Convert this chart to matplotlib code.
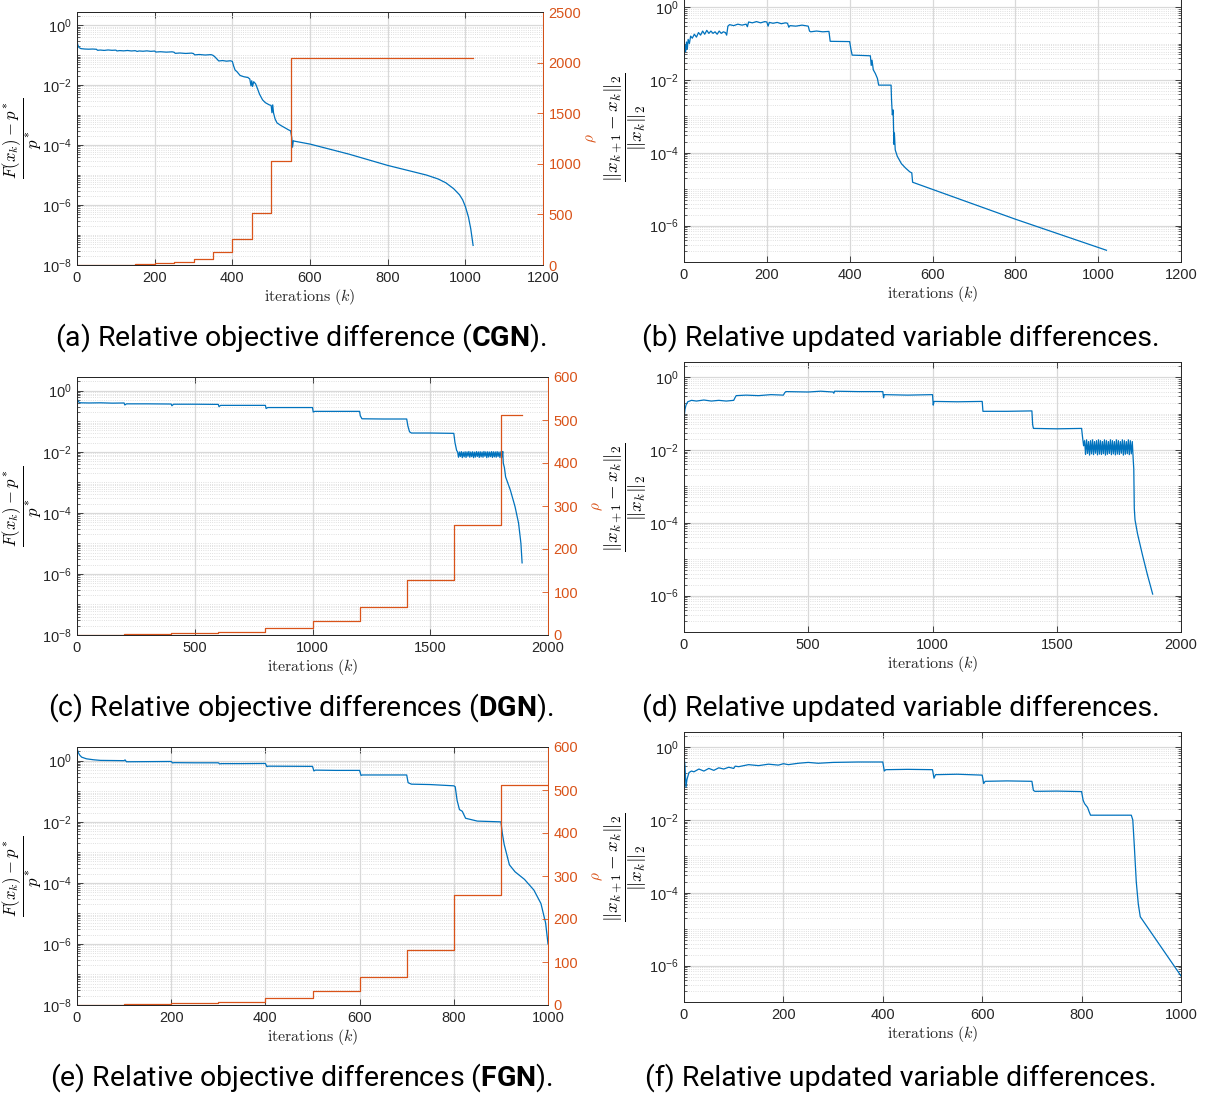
import matplotlib
matplotlib.use('Agg')
import matplotlib.pyplot as plt
from matplotlib import font_manager
from matplotlib.ticker import FixedLocator, LogFormatterMathtext, MultipleLocator, NullFormatter

# ---------------- data ----------------
# (a) CGN relative objective difference
cgn_obj_k = [0, 2, 5, 10, 20, 30, 40, 50, 53, 60, 70, 80, 90, 100, 103, 110, 120, 130, 140, 150,
             155, 160, 170, 180, 190, 200, 203, 215, 230, 245, 250, 253, 265, 280, 295, 300, 303,
             315, 330, 345, 350, 355, 360, 365, 375, 385, 395, 400, 403, 407, 412, 420, 430, 440,
             445, 448, 450, 452, 455, 460, 465, 470, 478, 485, 495, 500, 502, 504, 506, 510, 515,
             525, 535, 545, 550, 553, 555, 557, 560, 600, 700, 800, 850, 900, 930, 950, 970, 985,
             993, 1000, 1008, 1014, 1020]
cgn_obj_v = [0.30, 0.22, 0.18, 0.165, 0.16, 0.158, 0.16, 0.157, 0.145, 0.148, 0.144, 0.149, 0.145,
             0.147, 0.138, 0.142, 0.139, 0.143, 0.138, 0.141, 0.133, 0.138, 0.135, 0.139, 0.134,
             0.137, 0.127, 0.13, 0.126, 0.129, 0.125, 0.115, 0.118, 0.114, 0.117, 0.113, 0.102,
             0.105, 0.101, 0.104, 0.099, 0.088, 0.075, 0.064, 0.066, 0.063, 0.065, 0.062, 0.045,
             0.032, 0.028, 0.021, 0.019, 0.018, 0.016, 0.0095, 0.014, 0.009, 0.013, 0.011, 0.0075,
             0.005, 0.0032, 0.0026, 0.0022, 0.0021, 0.0012, 0.0022, 0.0012, 0.00075, 0.00055,
             0.00045, 0.00038, 0.00032, 0.00030, 0.00018, 0.000085, 0.00014, 0.000135, 0.000108,
             0.00005, 0.000021, 0.0000145, 0.0000100, 0.0000074, 0.0000055, 0.0000035, 0.0000022,
             0.0000015, 0.0000009, 0.0000004, 0.00000016, 0.000000045]
cgn_rho_k = [0, 50, 100, 150, 200, 250, 300, 350, 400, 450, 500, 550, 1020]
cgn_rho_v = [1, 2, 4, 8, 16, 32, 64, 128, 256, 512, 1024, 2048, 2048]

# (b) CGN relative updated variable differences
cgn_var_k = [0, 2, 4, 6, 8, 10, 13, 16, 20, 25, 30, 35, 40, 45, 50, 55, 60, 65, 70, 75, 80, 85, 90,
             95, 100, 103, 106, 110, 120, 130, 140, 150, 153, 156, 165, 175, 185, 195, 200, 203,
             206, 215, 225, 235, 245, 250, 253, 256, 270, 285, 300, 303, 306, 320, 335, 350, 353,
             375, 400, 403, 406, 430, 450, 452, 454, 457, 462, 467, 470, 500, 501, 503, 505, 506,
             507, 508, 510, 515, 525, 535, 545, 550, 552, 800, 1020]
cgn_var_v = [0.032, 0.09, 0.06, 0.11, 0.07, 0.13, 0.10, 0.16, 0.14, 0.18, 0.15, 0.20, 0.17, 0.22,
             0.18, 0.23, 0.19, 0.22, 0.19, 0.21, 0.18, 0.22, 0.19, 0.21, 0.20, 0.17, 0.30, 0.33,
             0.31, 0.34, 0.32, 0.34, 0.29, 0.39, 0.37, 0.40, 0.37, 0.40, 0.39, 0.30, 0.38, 0.36,
             0.38, 0.35, 0.37, 0.36, 0.28, 0.31, 0.30, 0.32, 0.30, 0.22, 0.21, 0.22, 0.21, 0.215,
             0.115, 0.114, 0.113, 0.07, 0.048, 0.047, 0.046, 0.025, 0.035, 0.019, 0.015, 0.011,
             0.0072, 0.0072, 0.003, 0.0011, 0.0015, 0.00045, 0.00017, 0.00035, 0.00012, 0.00008,
             0.00005, 0.000038, 0.00003, 0.000028, 0.0000155, 0.0000015, 0.00000021]

# (c) DGN relative objective differences
dgn_obj_k = [0, 3, 8, 15, 50, 100, 150, 200, 203, 210, 300, 400, 403, 410, 500, 600, 603, 610, 700,
             800, 803, 810, 900, 1000, 1003, 1010, 1100, 1200, 1203, 1210, 1300, 1400, 1405, 1412,
             1420, 1500, 1600, 1605, 1612,
             1616, 1620, 1624, 1628, 1632, 1636, 1640, 1644, 1648, 1652, 1656, 1660, 1664, 1668,
             1672, 1676, 1680, 1684, 1688, 1692, 1696, 1700, 1704, 1708, 1712, 1716, 1720, 1724,
             1728, 1732, 1736, 1740, 1744, 1748, 1752, 1756, 1760, 1764, 1768, 1772, 1776, 1780,
             1784, 1788, 1792, 1796, 1800, 1804, 1808,
             1810, 1815, 1820, 1840, 1860, 1875, 1885, 1890]
dgn_obj_v = [0.6, 0.48, 0.42, 0.40, 0.395, 0.40, 0.39, 0.395, 0.34, 0.37, 0.37, 0.365, 0.32, 0.36,
             0.36, 0.355, 0.30, 0.33, 0.33, 0.33, 0.26, 0.28, 0.28, 0.28, 0.20, 0.21, 0.21, 0.21,
             0.15, 0.12, 0.118, 0.118, 0.07, 0.045, 0.041, 0.041, 0.040, 0.02, 0.011,
             0.0100, 0.0066, 0.0098, 0.0070, 0.0101, 0.0064, 0.0097, 0.0068, 0.0100, 0.0065,
             0.0099, 0.0071, 0.0102, 0.0066, 0.0098, 0.0069, 0.0100, 0.0064, 0.0097, 0.0067,
             0.0101, 0.0070, 0.0099, 0.0065, 0.0100, 0.0068, 0.0098, 0.0066, 0.0102, 0.0071,
             0.0099, 0.0064, 0.0100, 0.0067, 0.0098, 0.0069, 0.0101, 0.0065, 0.0100, 0.0068,
             0.0099, 0.0066, 0.0101, 0.0070, 0.0098, 0.0064, 0.0100, 0.0067, 0.0102,
             0.0043, 0.003, 0.0015, 0.00056, 0.00016, 0.000046, 0.00001, 0.0000023]
dgn_rho_k = [0, 200, 400, 600, 800, 1000, 1200, 1400, 1600, 1800, 1890]
dgn_rho_v = [1, 2, 4, 8, 16, 32, 64, 128, 256, 512, 512]

# (d) DGN relative updated variable differences
dgn_var_k = [0, 2, 4, 8, 15, 30, 50, 80, 110, 140, 170, 200, 205, 210, 250, 300, 350, 400, 405,
             410, 500, 550, 600, 603, 606, 700, 800, 803, 806, 900, 1000, 1003, 1006, 1100, 1200,
             1203, 1300, 1400, 1403, 1406, 1500, 1600, 1603, 1608,
             1612, 1616, 1620, 1624, 1628, 1632, 1636, 1640, 1644, 1648, 1652, 1656, 1660, 1664,
             1668, 1672, 1676, 1680, 1684, 1688, 1692, 1696, 1700, 1704, 1708, 1712, 1716, 1720,
             1724, 1728, 1732, 1736, 1740, 1744, 1748, 1752, 1756, 1760, 1764, 1768, 1772, 1776,
             1780, 1784, 1788, 1792, 1796, 1800, 1804, 1808,
             1810, 1812, 1815, 1825, 1845, 1865, 1886]
dgn_var_v = [0.055, 0.10, 0.13, 0.17, 0.21, 0.23, 0.22, 0.235, 0.22, 0.23, 0.22, 0.23, 0.27, 0.31,
             0.32, 0.31, 0.33, 0.32, 0.37, 0.40, 0.39, 0.41, 0.39, 0.36, 0.41, 0.40, 0.40, 0.27,
             0.33, 0.32, 0.33, 0.17, 0.215, 0.21, 0.215, 0.115, 0.115, 0.118, 0.05, 0.039, 0.038,
             0.039, 0.025, 0.013,
             0.018, 0.0075, 0.019, 0.0080, 0.017, 0.0072, 0.018, 0.0078, 0.019, 0.0074, 0.017,
             0.0081, 0.018, 0.0073, 0.019, 0.0077, 0.018, 0.0075, 0.017, 0.0079, 0.019, 0.0072,
             0.018, 0.0076, 0.017, 0.0080, 0.019, 0.0074, 0.018, 0.0078, 0.017, 0.0073, 0.019,
             0.0077, 0.018, 0.0075, 0.017, 0.0081, 0.019, 0.0072, 0.018, 0.0076, 0.017, 0.0079,
             0.019, 0.0074, 0.018, 0.0078, 0.017, 0.0050,
             0.003, 0.00025, 0.00012, 0.00005, 0.000013, 0.0000037, 0.0000011]

# (e) FGN relative objective differences
fgn_obj_k = [0, 3, 6, 10, 20, 35, 50, 100, 102, 105, 150, 200, 203, 206, 250, 300, 303, 306, 350,
             400, 403, 406, 500, 503, 506, 550, 600, 603, 606, 650, 700, 703, 710, 750, 800, 803,
             807, 812, 818, 825, 850, 900, 903, 907, 912, 918, 930, 950, 970, 985, 995, 1000]
fgn_obj_v = [2.5, 1.8, 1.5, 1.3, 1.15, 1.07, 1.02, 1.0, 1.06, 0.92, 0.93, 0.94, 0.84, 0.86, 0.85,
             0.85, 0.78, 0.80, 0.80, 0.81, 0.64, 0.66, 0.65, 0.46, 0.49, 0.48, 0.48, 0.33, 0.34,
             0.34, 0.34, 0.19, 0.17, 0.165, 0.15, 0.14, 0.05, 0.025, 0.022, 0.013, 0.0105,
             0.0099, 0.0042, 0.0018, 0.0009, 0.00039, 0.00023, 0.00013, 0.000058, 0.000021,
             0.0000048, 0.000001]
fgn_rho_k = [0, 100, 200, 300, 400, 500, 600, 700, 800, 900, 1000]
fgn_rho_v = [1, 2, 4, 8, 16, 32, 64, 128, 256, 512, 512]

# (f) FGN relative updated variable differences
fgn_var_k = [0, 2, 4, 6, 10, 15, 20, 30, 40, 50, 60, 70, 80, 90, 100, 103, 110, 130, 150, 170,
             190, 200, 210, 230, 250, 270, 300, 350, 400, 403, 406, 450, 500, 503, 506, 550, 600,
             603, 606, 650, 700, 703, 706, 750, 800, 803, 806, 812, 815, 818, 900, 903, 906, 910,
             914, 918, 1000]
fgn_var_v = [0.55, 0.30, 0.08, 0.13, 0.20, 0.22, 0.21, 0.25, 0.22, 0.26, 0.23, 0.27, 0.25, 0.28,
             0.26, 0.30, 0.29, 0.33, 0.31, 0.34, 0.32, 0.35, 0.33, 0.36, 0.38, 0.36, 0.38, 0.39,
             0.39, 0.22, 0.24, 0.245, 0.24, 0.14, 0.175, 0.18, 0.17, 0.10, 0.115, 0.118, 0.115,
             0.065, 0.061, 0.062, 0.060, 0.035, 0.028, 0.022, 0.017, 0.0135, 0.0135, 0.01, 0.002,
             0.0002, 0.00005, 0.000022, 0.00000052]

captions = [
    r'(a) Relative objective difference ($\mathbf{CGN}$).',
    r'(b) Relative updated variable differences.',
    r'(c) Relative objective differences ($\mathbf{DGN}$).',
    r'(d) Relative updated variable differences.',
    r'(e) Relative objective differences ($\mathbf{FGN}$).',
    r'(f) Relative updated variable differences.',
]
xlabel = r'$\mathrm{iterations}\ (k)$'
ylabel_obj = r'$\dfrac{F(x_k)-p^*}{p^*}$'
ylabel_var = r'$\dfrac{\Vert x_{k+1}-x_k\Vert_2}{\Vert x_k\Vert_2}$'

# ---------------- style ----------------
avail = {f.name for f in font_manager.fontManager.ttflist}
cap_font = next((f for f in ['Roboto', 'Liberation Sans'] if f in avail), 'DejaVu Sans')
tick_font = 'Liberation Sans' if 'Liberation Sans' in avail else 'DejaVu Sans'
plt.rcParams['font.family'] = [tick_font, 'DejaVu Sans']
plt.rcParams['mathtext.fontset'] = 'custom'
plt.rcParams['mathtext.rm'] = cap_font
plt.rcParams['mathtext.bf'] = cap_font + ':bold'

BLUE = '#0072BD'
ORANGE = '#D95319'
DARK = '#262626'
W, H = 1210, 1100
fig = plt.figure(figsize=(W / 100, H / 100), dpi=100)


def add_ax(l, t, r, b):
    return fig.add_axes([l / W, 1 - b / H, (r - l) / W, (b - t) / H])


major_dec = [10.0 ** e for e in range(-8, 1, 2)]
minor_dec = [m * 10.0 ** e for e in range(-9, 1) for m in range(1, 10)]


def style_log(ax, ylim, xmax, xstep, right_ticks):
    ax.set_yscale('log')
    ax.set_ylim(*ylim)
    ax.set_xlim(0, xmax)
    ax.xaxis.set_major_locator(MultipleLocator(xstep))
    ax.yaxis.set_major_locator(FixedLocator(major_dec))
    ax.yaxis.set_major_formatter(LogFormatterMathtext())
    ax.yaxis.set_minor_locator(FixedLocator(minor_dec))
    ax.yaxis.set_minor_formatter(NullFormatter())
    ax.grid(True, which='major', color='#d9d9d9', lw=0.9)
    ax.grid(True, which='minor', axis='y', color='#d6d6d6', lw=0.6, ls=':')
    ax.set_axisbelow(True)
    ax.tick_params(which='both', direction='in', top=True, right=right_ticks,
                   colors=DARK, labelsize=10.5, pad=4)
    ax.tick_params(which='major', length=4, width=0.6)
    ax.tick_params(which='minor', length=2, width=0.5)
    for s in ax.spines.values():
        s.set_color(DARK)
        s.set_linewidth(0.7)
    ax.set_xlabel(xlabel, fontsize=11.5, math_fontfamily='cm', color=DARK, labelpad=2)


def left_panel(px, k, v, rk, rv, xmax, xstep, rmax, rstep, ylim):
    ax = add_ax(*px)
    style_log(ax, ylim, xmax, xstep, right_ticks=False)
    ax.plot(k, v, color=BLUE, lw=0.9)
    ax.set_ylabel(ylabel_obj, fontsize=12, math_fontfamily='cm', color='black')
    ax.yaxis.set_label_coords(-0.071, 0.5)
    ax2 = ax.twinx()
    ax2.step(rk, rv, where='post', color=ORANGE, lw=0.9)
    ax2.set_ylim(0, rmax)
    ax2.set_xlim(0, xmax)
    ax2.yaxis.set_major_locator(MultipleLocator(rstep))
    ax2.tick_params(axis='y', direction='in', colors=ORANGE, labelsize=10.5, length=4,
                    width=0.6, pad=4)
    for name, s in ax2.spines.items():
        s.set_linewidth(0.7)
        s.set_color(ORANGE if name == 'right' else DARK)
    ax2.set_ylabel(r'$\rho$', fontsize=11, math_fontfamily='cm', color=ORANGE)
    ax2.yaxis.set_label_coords(1.09, 0.5)
    return ax


def right_panel(px, k, v, xmax, xstep, ylim):
    ax = add_ax(*px)
    style_log(ax, ylim, xmax, xstep, right_ticks=True)
    ax.plot(k, v, color=BLUE, lw=0.9)
    ax.set_ylabel(ylabel_var, fontsize=13.5, math_fontfamily='cm', color='black')
    ax.yaxis.set_label_coords(-0.07, 0.5)
    return ax


left_panel((77, 12, 543, 265), cgn_obj_k, cgn_obj_v, cgn_rho_k, cgn_rho_v,
           1200, 200, 2500, 500, (1e-8, 2.75))
right_panel((684, -8, 1181, 262), cgn_var_k, cgn_var_v, 1200, 200, (1e-7, 2.6))
left_panel((77, 377, 548, 635), dgn_obj_k, dgn_obj_v, dgn_rho_k, dgn_rho_v,
           2000, 500, 600, 100, (1e-8, 2.8))
right_panel((684, 362, 1181, 632), dgn_var_k, dgn_var_v, 2000, 500, (1e-7, 2.6))
left_panel((77, 747, 548, 1005), fgn_obj_k, fgn_obj_v, fgn_rho_k, fgn_rho_v,
           1000, 200, 600, 100, (1e-8, 2.8))
right_panel((684, 732, 1181, 1002), fgn_var_k, fgn_var_v, 1000, 200, (1e-7, 2.6))

cap_pos = [(301, 338), (901, 338), (301, 708), (901, 708), (301, 1078), (901, 1078)]
for (cx, cy), txt in zip(cap_pos, captions):
    fig.text(cx / W, 1 - cy / H, txt, ha='center', va='center', fontsize=20.5,
             family=[cap_font, 'DejaVu Sans'], color='black')

fig.savefig('out.png', dpi=100)
